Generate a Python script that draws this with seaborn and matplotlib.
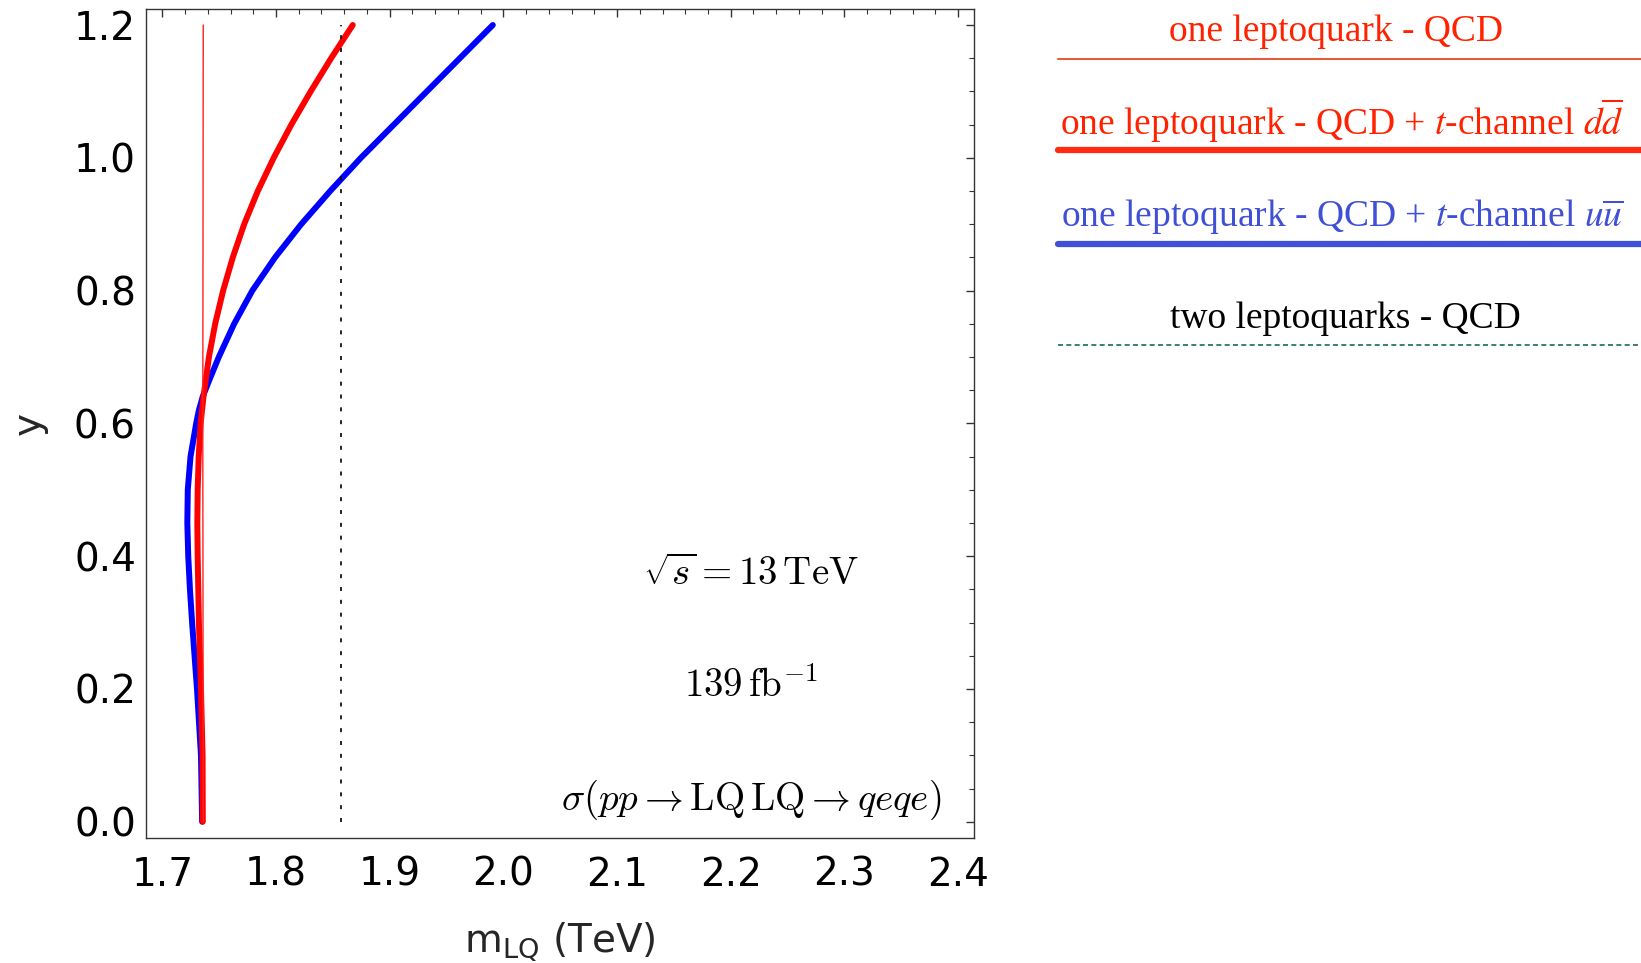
import numpy as np
import pandas as pd
import seaborn as sns
import matplotlib
matplotlib.use("Agg")
import matplotlib.pyplot as plt
from matplotlib.lines import Line2D
from matplotlib.ticker import MultipleLocator

# Exclusion contours in the (m_LQ, y) plane
qcd_y = [0.00, 0.30, 0.60, 0.90, 1.20]
qcd_x = [1.7360, 1.7358, 1.7356, 1.7358, 1.7360]

dd_y = [0.00, 0.10, 0.20, 0.30, 0.40, 0.45, 0.50, 0.55, 0.60, 0.64, 0.70,
        0.75, 0.80, 0.85, 0.90, 0.95, 1.00, 1.05, 1.10, 1.15, 1.20]
dd_x = [1.7356, 1.7354, 1.7340, 1.7322, 1.7311, 1.7308, 1.7311, 1.7320, 1.7337, 1.7362, 1.7410,
        1.7465, 1.7535, 1.7620, 1.7720, 1.7840, 1.7980, 1.8135, 1.8305, 1.8485, 1.8675]

uu_y = [0.00, 0.10, 0.20, 0.30, 0.35, 0.40, 0.45, 0.50, 0.55, 0.60, 0.62, 0.64, 0.665,
        0.70, 0.75, 0.80, 0.85, 0.90, 0.95, 1.00, 1.05, 1.10, 1.15, 1.20]
uu_x = [1.7350, 1.7340, 1.7305, 1.7262, 1.7243, 1.7228, 1.7220, 1.7224, 1.7248, 1.7298, 1.7322, 1.7355, 1.7413,
        1.7497, 1.7632, 1.7792, 1.7992, 1.8222, 1.8477, 1.8747, 1.9037, 1.9327, 1.9617, 1.9907]

pair_y = [0.0, 1.2]
pair_x = [1.857, 1.857]

x_ticks = [1.7, 1.8, 1.9, 2.0, 2.1, 2.2, 2.3, 2.4]
y_ticks = [0.0, 0.2, 0.4, 0.6, 0.8, 1.0, 1.2]

legend_labels = [
    "one leptoquark - QCD",
    r"one leptoquark - QCD + $t$-channel $d\overline{d}$",
    r"one leptoquark - QCD + $t$-channel $u\overline{u}$",
    "two leptoquarks - QCD",
]

sns.set_theme(style="white")
plt.rcParams["font.family"] = ["DejaVu Sans"]

fig = plt.figure(figsize=(16.41, 9.63), dpi=100)
ax = fig.add_axes([0.0888, 0.1301, 0.5047, 0.8602])

def curve(xs, ys):
    return pd.DataFrame({"m": xs, "y": ys})

sns.lineplot(data=curve(uu_x, uu_y), x="m", y="y", sort=False, estimator=None,
             color="#0000ff", lw=4.3, ax=ax)
sns.lineplot(data=curve(dd_x, dd_y), x="m", y="y", sort=False, estimator=None,
             color="#ff0000", lw=4.3, ax=ax)
sns.lineplot(data=curve(qcd_x, qcd_y), x="m", y="y", sort=False, estimator=None,
             color="#ff2020", lw=1.0, ax=ax)
sns.lineplot(data=curve(pair_x, pair_y), x="m", y="y", sort=False, estimator=None,
             color="black", lw=1.2, ax=ax)
ax.lines[-1].set_dashes((2.4, 5.3))
for ln in ax.lines:
    ln.set_solid_joinstyle("round")

ax.set_xlim(1.6854, 2.4139)
ax.set_ylim(-0.0241, 1.2236)
ax.set_xticks(x_ticks)
ax.set_yticks(y_ticks)
ax.set_xticklabels([f"{v:.1f}" for v in x_ticks])
ax.set_yticklabels([f"{v:.1f}" for v in y_ticks])
ax.xaxis.set_minor_locator(MultipleLocator(0.02))
ax.yaxis.set_minor_locator(MultipleLocator(0.05))
ax.tick_params(which="both", direction="in", top=True, right=True, colors="#333333")
ax.tick_params(which="major", length=6, width=1.0, labelsize=28, labelcolor="black")
ax.tick_params(axis="x", which="major", pad=13)
ax.tick_params(axis="y", which="major", pad=7)
ax.tick_params(which="minor", length=3.5, width=0.8)
for sp in ax.spines.values():
    sp.set_color("#333333")
    sp.set_linewidth(1.0)

ax.set_xlabel(r"m$_\mathregular{LQ}$ (TeV)", fontsize=28, labelpad=19)
ax.set_ylabel("y", fontsize=28, labelpad=19)

ann = dict(transform=ax.transAxes, ha="center", va="center", fontsize=28,
           math_fontfamily="cm", color="black")
ax.text(0.7308, 0.318, r"$\sqrt{s} = 13\,\mathrm{TeV}$", **ann)
ax.text(0.7308, 0.183, r"$139\,\mathrm{fb}^{-1}$", **ann)
ax.text(0.7308, 0.046, r"$\sigma(pp \rightarrow \mathrm{LQ}\,\mathrm{LQ} \rightarrow qeqe)$", **ann)

# Legend panel to the right of the plot
text_colors = ["#ff2200", "#ff2200", "#3f4fd6", "black"]
text_pos = [(0.8144, 0.9675), (0.8178, 0.8750), (0.8178, 0.7742), (0.8196, 0.6689)]
line_y = [0.9391, 0.8445, 0.7467, 0.6413]
line_styles = [
    dict(color="#e0603a", lw=1.5),
    dict(color="#ff2a10", lw=4.5),
    dict(color="#4050d8", lw=4.5),
    dict(color="#1a6b55", lw=1.2, ls=(0, (3, 2))),
]
x0 = 1058 / 1641
for label, col, (tx, ty), ly, st in zip(legend_labels, text_colors, text_pos, line_y, line_styles):
    fig.text(tx, ty, label, ha="center", va="center", fontsize=27, color=col,
             family=["Liberation Serif"], math_fontfamily="stix")
    fig.add_artist(Line2D([x0, 1.0], [ly, ly], transform=fig.transFigure, **st))

fig.savefig("out.png", dpi=100)
